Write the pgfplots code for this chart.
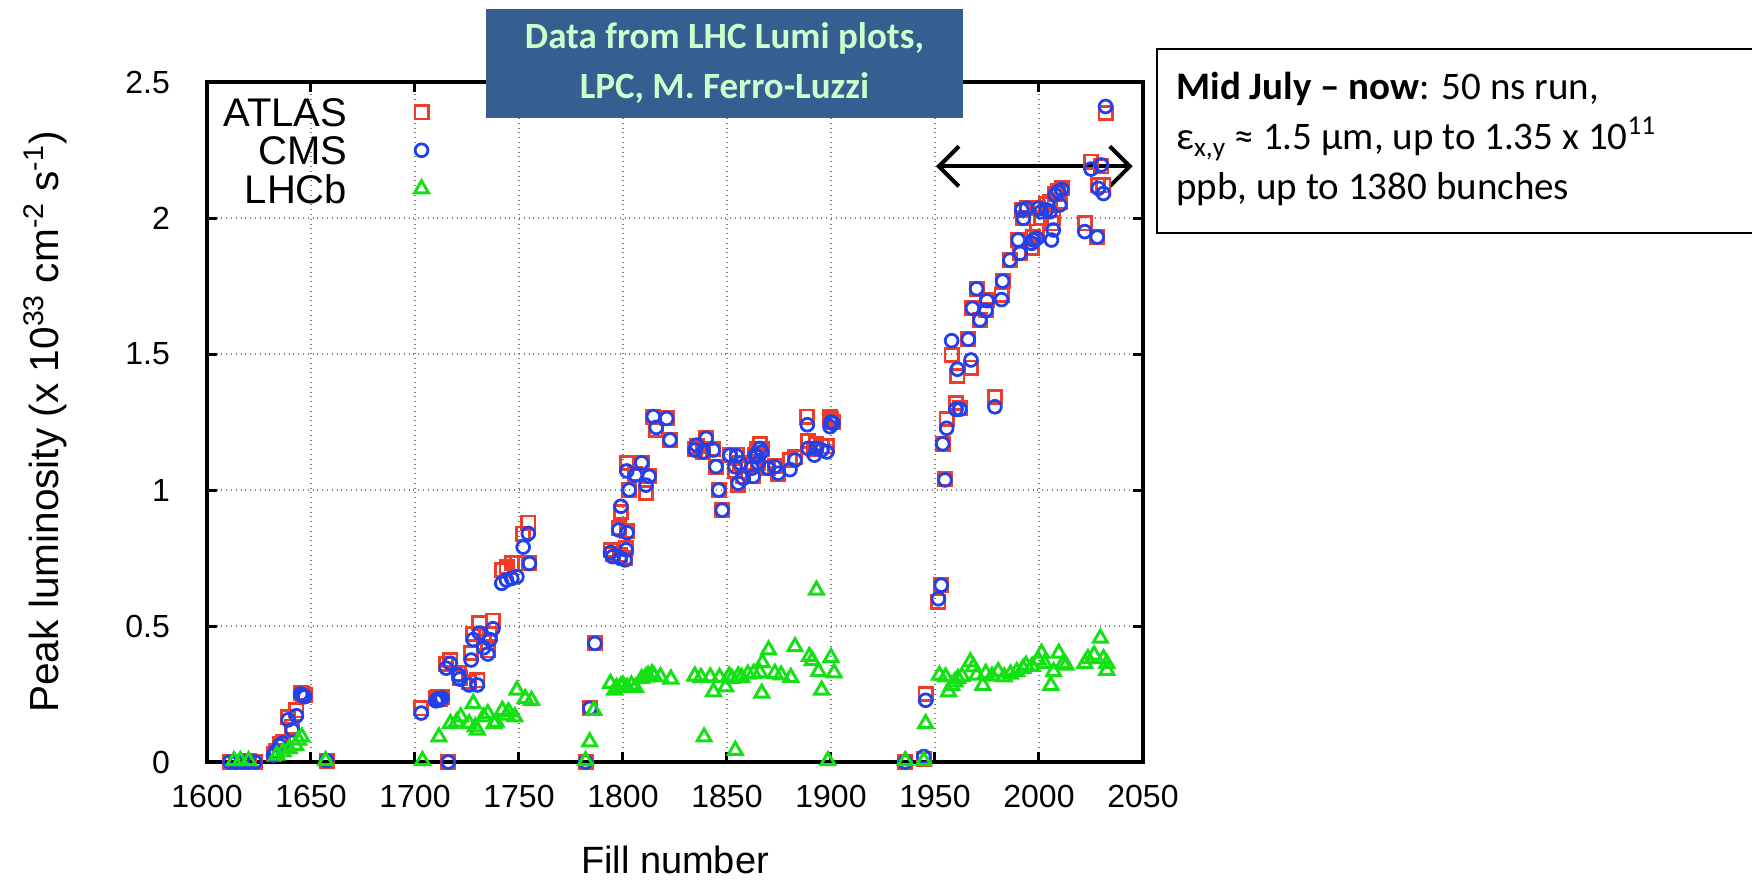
\documentclass[border=0pt]{standalone}
\usepackage{fontspec}
\setmainfont{Liberation Sans}
\newfontfamily\carlito{Carlito}
\usepackage{pgfplots}
\pgfplotsset{compat=1.18}
\usepackage{pgfplotstable}
\usetikzlibrary{arrows.meta}

\definecolor{atlasred}{RGB}{240,60,40}
\definecolor{cmsblue}{RGB}{35,65,235}
\definecolor{lhcbgreen}{RGB}{20,225,20}
\definecolor{boxblue}{RGB}{54,95,145}
\definecolor{boxtext}{RGB}{204,255,204}

\newcommand{\legfont}{\fontsize{20}{24}\selectfont}
\pgfplotsset{mylegimg/.style={legend image code/.code={\path (0pt,0pt) (40pt,0pt); \draw[##1] plot coordinates {(36pt,0pt)};}}}

\pgfplotstableread{
x A C
1611 0 0
1614 0 0
1617 0 0
1620 0.005 0
1623 0 0
1632 0.03 0.025
1633 0.04 0.038
1635 0.065 0.06
1636.5 0.075 0.07
1639 0.165 0.155
1641 0.13 0.118
1643 0.19 0.17
1645 0.255 0.25
1646 0.25 0.245
1647 0.245 0.24
1657.5 0.005 0.005
1703 0.197 0.18
1710 0.235 0.225
1711 0.24 0.232
1712 0.23 0.228
1713 0.24 0.235
1715 0.36 0.345
1716 0 0
1717 0.376 0.363
1721 0.326 0.32
1721.5 0.31 0.305
1726 0.295 0.283
1727 0.4 0.375
1728 0.47 0.45
1730 0.3 0.283
1731 0.51 0.474
1733 0.44 0.42
1735 0.41 0.397
1736 0.47 0.45
1737.5 0.52 0.49
1741.7 0.706 0.657
1744 0.718 0.669
1746.5 0.73 0.675
1749 0.73 0.681
1752 0.84 0.79
1754.5 0.88 0.84
1755 0.73 0.73
1782 0 0
1784 0.2 0.197
1786.5 0.436 0.436
1794 0.78 0.77
1795 0.765 0.755
1798 0.86 0.853
1798.5 0.76 0.75
1799 0.92 0.94
1801 0.75 0.743
1801.5 0.785 0.78
1801.8 1.1 1.07
1802 0.85 0.843
1803 1.0 1.0
1806 1.06 1.055
1809 1.1 1.1
1811 0.99 1.018
1812.6 1.05 1.05
1814.6 1.27 1.27
1816 1.22 1.23
1821 1.263 1.263
1822.6 1.184 1.184
1834.6 1.15 1.147
1835.4 1.16 1.165
1838.6 1.14 1.14
1840 1.19 1.19
1843.4 1.15 1.147
1844.7 1.086 1.086
1846 1.0 1.0
1847.7 0.926 0.926
1851.4 1.13 1.128
1853.8 1.07 1.086
1854.6 1.13 1.126
1855.4 1.02 1.025
1856.3 1.1 1.099
1857.8 1.05 1.043
1861.9 1.09 1.08
1862.6 1.05 1.05
1863.5 1.13 1.128
1864.3 1.15 1.123
1865 1.1 1.099
1865.9 1.17 1.153
1866.7 1.15 1.14
1869.8 1.08 1.08
1873 1.09 1.086
1874.6 1.06 1.062
1880.3 1.11 1.075
1882.7 1.12 1.11
1888.6 1.27 1.24
1889 1.18 1.153
1892 1.15 1.128
1893 1.17 1.153
1895.5 1.16 1.147
1898 1.16 1.14
1899.5 1.27 1.233
1900 1.26 1.25
1901 1.25 1.245
1935.7 0 0
1944.6 0.01 0.02
1945.5 0.25 0.227
1951.6 0.59 0.6
1953 0.65 0.65
1953.7 1.17 1.17
1954.8 1.04 1.037
1955.6 1.26 1.227
1958 1.496 1.549
1960 1.32 1.297
1960.8 1.42 1.444
1962 1.3 1.297
1966 1.554 1.554
1967.3 1.45 1.478
1968 1.668 1.668
1970 1.74 1.74
1971.6 1.625 1.625
1974.5 1.66 1.66
1975 1.7 1.696
1978.8 1.343 1.306
1982 1.717 1.7
1982.5 1.768 1.768
1986 1.845 1.845
1990 1.919 1.919
1990.9 1.87 1.87
1991.7 2.03 2.03
1992.5 2.0 1.999
1994 2.036 2.036
1996.5 1.89 1.907
1997.3 1.93 1.919
1999 1.95 1.925
1999.7 2.036 2.036
2001 2.0 2.023
2003.6 2.05 2.03
2005.3 2.06 2.023
2006 1.98 1.919
2006.9 2.0 1.956
2007.7 2.09 2.085
2009.3 2.1 2.097
2010 2.06 2.048
2011 2.11 2.105
2022 1.98 1.95
2025 2.207 2.18
2028 1.93 1.93
2028.5 2.12 2.109
2030 2.19 2.195
2031 2.12 2.09
2032 2.385 2.41
}\tabAC

\pgfplotstableread{
x L
1613 0.005
1616 0.005
1620 0.005
1633.6 0.025
1636.6 0.037
1639.6 0.049
1642.6 0.061
1644 0.08
1645.6 0.092
1657 0.005
1703.6 0.005
1711.5 0.092
1717 0.141
1720 0.147
1722 0.166
1726 0.141
1728 0.215
1729 0.129
1730 0.117
1733 0.166
1735 0.178
1738 0.141
1739 0.147
1742 0.19
1744 0.172
1745 0.184
1748 0.166
1749 0.264
1753 0.233
1756 0.227
1782 0.005
1784 0.074
1786 0.19
1794 0.289
1796 0.264
1797 0.274
1799 0.279
1800 0.283
1802 0.274
1804 0.283
1806 0.274
1809 0.307
1811 0.313
1812 0.319
1814 0.325
1815 0.315
1818 0.313
1823 0.305
1834.5 0.316
1837.5 0.311
1839 0.092
1842 0.313
1843.5 0.258
1846.4 0.311
1849.4 0.276
1851 0.316
1852.4 0.307
1854 0.043
1855.4 0.316
1857 0.311
1860 0.323
1862.8 0.326
1865.8 0.328
1866.7 0.253
1867 0.365
1870 0.412
1873 0.326
1876 0.32
1880.7 0.311
1882.7 0.424
1889.6 0.388
1891 0.373
1893 0.632
1894 0.332
1895.5 0.264
1898.5 0.005
1900 0.384
1901.5 0.328
1935.7 0.005
1944.6 0.005
1945.5 0.141
1952.1 0.319
1955.1 0.313
1956.5 0.258
1958 0.282
1959.5 0.295
1961 0.307
1963 0.315
1967 0.368
1968.5 0.35
1970 0.319
1973 0.282
1974.4 0.326
1977.4 0.316
1980.4 0.332
1983.3 0.313
1986.3 0.323
1989.3 0.332
1992.3 0.344
1993.8 0.356
1996.7 0.352
1999.7 0.375
2001.2 0.4
2002.7 0.362
2005.7 0.282
2007 0.332
2009.5 0.4
2011.6 0.362
2013 0.356
2022 0.362
2023.5 0.38
2026.5 0.393
2029.5 0.455
2031 0.38
2032.6 0.362
2032.6 0.337
}\tabL

\begin{document}
\begin{tikzpicture}
\begin{axis}[
  at={(0pt,0pt)}, anchor=south west,
  width=468pt, height=340pt, scale only axis,
  xmin=1600, xmax=2050, ymin=0, ymax=2.5,
  xtick={1600,1650,1700,1750,1800,1850,1900,1950,2000,2050},
  ytick={0,0.5,1,1.5,2,2.5},
  /pgf/number format/assume math mode=true,
  /pgf/number format/1000 sep={},
  tick label style={font=\fontsize{16}{19}\selectfont},
  xticklabel style={yshift=-8pt},
  yticklabel style={xshift=-15pt},
  tick align=inside,
  xtick pos=both, ytick pos=both,
  major tick length=5pt,
  tick style={line width=1.5pt, black},
  axis line style={line width=2pt},
  grid=major,
  major grid style={dotted, gray, line width=0.6pt},
  xlabel={Fill number},
  ylabel={Peak luminosity (x 10\textsuperscript{33} cm\textsuperscript{-2} s\textsuperscript{-1})},
  xlabel style={font=\fontsize{19}{22}\selectfont, at={(axis description cs:0.5,-0.144)}, anchor=center},
  ylabel style={font=\fontsize{20.3}{24}\selectfont, at={(axis description cs:-0.173,0.5)}, anchor=center},
  legend plot pos=right,
  legend cell align=right,
  legend style={draw=none, fill=none, at={(axis description cs:0,1)}, anchor=north west,
    xshift=7pt, yshift=-7pt, inner sep=0pt, row sep=3pt,
    nodes={inner sep=1pt, text depth=0pt}},
]
\addplot[only marks, mark=square, mark size=3.3pt, atlasred, mark options={line width=1.4pt, solid}, mylegimg] table[x=x, y=A] {\tabAC};
\addlegendentry{\legfont ATLAS}
\addplot[only marks, mark=o, mark size=3.2pt, cmsblue, mark options={line width=1.4pt, solid}, mylegimg] table[x=x, y=C] {\tabAC};
\addlegendentry{\legfont CMS}
\addplot[only marks, mark=triangle, mark size=4pt, lhcbgreen, mark options={line width=1.5pt, solid}, mylegimg] table[x=x, y=L] {\tabL};
\addlegendentry{\legfont LHCb}
\draw[line width=2pt, {Straight Barb[length=10pt,width=20pt]}-{Straight Barb[length=10pt,width=20pt]}] (axis cs:1950.5,2.19) -- (axis cs:2045,2.19);
\end{axis}
\pgfresetboundingbox
\path[use as bounding box] (-103.5pt,-58.5pt) rectangle (772.5pt,381pt);
% source box
\node[fill=boxblue, text=boxtext, minimum width=238.5pt, minimum height=54.5pt, inner sep=0pt,
  align=center, font=\carlito\bfseries\fontsize{18.5}{25}\selectfont] at (258.75pt,349.25pt)
  {Data from LHC Lumi plots,\\LPC, M. Ferro-Luzzi};
% info box
\draw[line width=0.8pt, fill=white] (475pt,264.5pt) rectangle (790pt,356.5pt);
\node[anchor=base west, inner sep=0pt, font=\carlito\fontsize{19.5}{22}\selectfont] at (484.5pt,331pt) {\textbf{Mid July – now}: 50 ns run,};
\node[anchor=base west, inner sep=0pt, font=\carlito\fontsize{19.5}{22}\selectfont] at (484.5pt,306pt) {ε\textsubscript{x,y} ≈ 1.5 μm, up to 1.35 x 10\textsuperscript{11}};
\node[anchor=base west, inner sep=0pt, font=\carlito\fontsize{19.5}{22}\selectfont] at (484.5pt,281pt) {ppb, up to 1380 bunches};
\end{tikzpicture}
\end{document}
